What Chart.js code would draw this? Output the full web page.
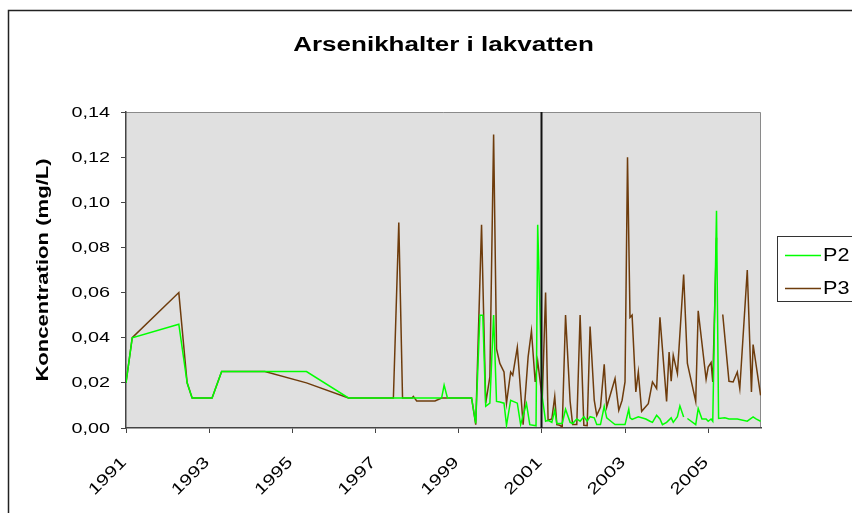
<!DOCTYPE html>
<html>
<head>
<meta charset="utf-8">
<script src="https://cdn.jsdelivr.net/npm/chart.js@4.4.1/dist/chart.umd.min.js"></script>
<style>
  html, body { margin: 0; padding: 0; background: #fff; }
  #wrap { width: 852px; height: 513px; position: relative; }
</style>
</head>
<body>
<div id="wrap"><canvas id="c" width="852" height="513"></canvas></div>
<script>
// Arsenic concentration in leachate, sampling points P2 and P3 (mg/L), dates as decimal years
const chartTitle = 'Arsenikhalter i lakvatten';
const yAxisTitle = 'Koncentration (mg/L)';
const seriesNames = ['P2', 'P3'];
const xTickYears = [1991, 1993, 1995, 1997, 1999, 2001, 2003, 2005];
const yTicks = [0, 0.02, 0.04, 0.06, 0.08, 0.10, 0.12, 0.14];
const markerYear = 2000.97;

const p2Dates = [
  1991.00, 1991.15, 1992.27, 1992.47, 1992.59, 1993.07, 1993.30, 1994.34, 1995.34, 1996.35,
  1998.59, 1998.65, 1998.73, 1999.31, 1999.41, 1999.51, 1999.58, 1999.65, 1999.75, 1999.84,
  1999.91, 1999.99, 2000.09, 2000.15, 2000.25, 2000.41, 2000.49, 2000.63, 2000.71, 2000.86,
  2000.90, 2001.01, 2001.09, 2001.15, 2001.24, 2001.31, 2001.36, 2001.49, 2001.57, 2001.68,
  2001.74, 2001.84, 2001.92, 2002.01, 2002.09, 2002.16, 2002.26, 2002.32, 2002.41, 2002.50,
  2002.56, 2002.66, 2002.76, 2003.00, 2003.09, 2003.12, 2003.17, 2003.32, 2003.50, 2003.60,
  2003.66, 2003.76, 2003.84, 2003.90, 2004.00, 2004.11, 2004.16, 2004.26, 2004.32, 2004.41,
  2004.45, 2004.50, 2004.70, 2004.76, 2004.85, 2004.95, 2005.00, 2005.07, 2005.11, 2005.20,
  2005.25, 2005.40, 2005.50, 2005.70, 2005.94, 2006.08, 2006.15, 2006.26
];
const p2Values = [
  0.020, 0.040, 0.046, 0.020, 0.0133, 0.0133, 0.025, 0.025, 0.025, 0.0133,
  0.0133, 0.019, 0.0133, 0.0133, 0.002, 0.050, 0.050, 0.0096, 0.011, 0.050,
  0.0118, 0.0115, 0.011, 0.0012, 0.0123, 0.011, 0.0015, 0.0108, 0.0015, 0.001,
  0.090, 0.0137, 0.003, 0.0034, 0.0025, 0.0078, 0.002, 0.002, 0.0083, 0.0025,
  0.002, 0.004, 0.003, 0.005, 0.003, 0.005, 0.0045, 0.0015, 0.0015, 0.0096,
  0.0045, 0.003, 0.0015, 0.0015, 0.0083, 0.0045, 0.0038, 0.005, 0.004, 0.003,
  0.0025, 0.0056, 0.004, 0.0015, 0.0025, 0.0045, 0.0025, 0.005, 0.0098, 0.0049,
  null, 0.0042, 0.0015, 0.0086, 0.004, 0.004, 0.003, 0.004, 0.003, 0.0962,
  0.0042, 0.0045, 0.004, 0.004, 0.003, 0.0049, 0.004, 0.003
];

const p3Dates = [
  1991.00, 1991.15, 1992.27, 1992.47, 1992.59, 1993.07, 1993.30, 1994.34, 1995.34, 1996.35,
  1997.43, 1997.56, 1997.65, 1997.88, 1997.91, 1997.99, 1998.43, 1998.59, 1999.31, 1999.41,
  1999.55, 1999.65, 1999.75, 1999.84, 1999.91, 1999.99, 2000.09, 2000.15, 2000.25, 2000.30,
  2000.41, 2000.55, 2000.67, 2000.75, 2000.84, 2000.90, 2001.01, 2001.09, 2001.15, 2001.24,
  2001.31, 2001.36, 2001.43, 2001.49, 2001.57, 2001.68, 2001.74, 2001.84, 2001.92, 2002.01,
  2002.09, 2002.16, 2002.26, 2002.32, 2002.41, 2002.50, 2002.56, 2002.76, 2002.85, 2002.93,
  2003.00, 2003.06, 2003.12, 2003.17, 2003.26, 2003.32, 2003.40, 2003.56, 2003.66, 2003.76,
  2003.84, 2004.00, 2004.06, 2004.11, 2004.16, 2004.26, 2004.41, 2004.50, 2004.70, 2004.76,
  2004.95, 2005.00, 2005.07, 2005.11, 2005.20, 2005.27, 2005.35, 2005.50, 2005.60, 2005.70,
  2005.76, 2005.94, 2006.04, 2006.08, 2006.26
];
const p3Values = [
  0.020, 0.040, 0.060, 0.020, 0.0133, 0.0133, 0.025, 0.025, 0.020, 0.0133,
  0.0133, 0.091, 0.0133, 0.0133, 0.014, 0.012, 0.012, 0.0133, 0.0133, 0.0015,
  0.090, 0.011, 0.0226, 0.130, 0.035, 0.0286, 0.0248, 0.011, 0.0248, 0.0234,
  0.0357, 0.0015, 0.0315, 0.043, 0.0204, 0.0296, 0.013, 0.060, 0.0034, 0.004,
  0.014, 0.0015, 0.0012, 0.0005, 0.050, 0.0118, 0.0015, 0.0015, 0.050, 0.0012,
  0.001, 0.045, 0.0123, 0.0056, 0.0093, 0.0282, 0.0093, 0.0219, 0.0078, 0.0123,
  0.0204, 0.120, 0.049, 0.050, 0.016, 0.0248, 0.0074, 0.0108, 0.0204, 0.0175,
  0.049, 0.0118, 0.0337, 0.0207, 0.0322, 0.0241, 0.068, 0.0286, 0.0118, 0.0519,
  0.0216, 0.027, 0.029, 0.0204, 0.0843, null, 0.0503, 0.0207, 0.0204, 0.0248,
  0.0175, 0.070, 0.016, 0.037, 0.0145
];

const seriesColors = ['#00ff00', '#6e3c0c'];
const FONT = "'Liberation Sans', Arial, sans-serif";
const WIDE = 1.3; // horizontal glyph stretch used for the chart text

function toPoints(dates, values) {
  return dates.map((d, i) => ({ x: d, y: values[i] }));
}

// draws text widened along its reading direction
function wideText(ctx, text, x, y, angle, align, font, kx) {
  ctx.save();
  ctx.translate(x, y);
  ctx.rotate(angle);
  ctx.scale(kx, 1);
  ctx.font = font;
  ctx.textAlign = align;
  ctx.textBaseline = 'middle';
  ctx.fillStyle = '#000';
  ctx.fillText(text, 0, 0);
  ctx.restore();
}

// Frame, plot background, marker line, labels, title and legend
const decorations = {
  id: 'decorations',
  beforeDraw(chart) {
    const { ctx, chartArea: a } = chart;
    ctx.save();
    ctx.fillStyle = '#ffffff';
    ctx.fillRect(0, 0, chart.width, chart.height);
    ctx.strokeStyle = '#222';
    ctx.lineWidth = 1.5;
    ctx.strokeRect(8.5, 10.5, 1200, 1200);
    ctx.fillStyle = '#e0e0e0';
    ctx.fillRect(a.left, a.top, a.right - a.left, a.bottom - a.top);
    ctx.strokeStyle = '#8a8a8a';
    ctx.lineWidth = 1;
    ctx.beginPath();
    ctx.moveTo(a.left, a.top + 0.5);
    ctx.lineTo(a.right - 0.5, a.top + 0.5);
    ctx.lineTo(a.right - 0.5, a.bottom);
    ctx.stroke();
    ctx.restore();
  },
  afterDatasetsDraw(chart) {
    const { ctx, chartArea: a, scales } = chart;
    const x = Math.round(scales.x.getPixelForValue(markerYear)) + 0.5;
    ctx.save();
    ctx.strokeStyle = '#111';
    ctx.lineWidth = 2;
    ctx.beginPath();
    ctx.moveTo(x, a.top);
    ctx.lineTo(x, a.bottom);
    ctx.stroke();
    ctx.restore();
  },
  afterDraw(chart) {
    const { ctx, chartArea: a, scales } = chart;
    const xs = scales.x, ys = scales.y;

    // axis tick labels from the scales' own ticks
    xs.ticks.forEach(t => {
      const px = xs.getPixelForValue(t.value);
      wideText(ctx, String(t.label), px - 2, a.bottom + 32, -Math.PI / 4, 'right', '16px ' + FONT, WIDE);
    });
    ys.ticks.forEach(t => {
      const py = ys.getPixelForValue(t.value);
      wideText(ctx, String(t.label), 110, py + 0.5, 0, 'right', '15px ' + FONT, 1.32);
    });

    // axis title and chart title
    wideText(ctx, yAxisTitle, 44, (a.top + a.bottom) / 2, -Math.PI / 2, 'center', 'bold 16px ' + FONT, 1.38);
    wideText(ctx, chartTitle, (a.left + a.right) / 2, 45, 0, 'center', 'bold 20px ' + FONT, WIDE);

    // legend
    ctx.save();
    ctx.strokeStyle = '#333';
    ctx.lineWidth = 1;
    ctx.strokeRect(777.5, 236.5, 120, 65);
    chart.data.datasets.forEach((ds, i) => {
      const y = 255 + i * 33;
      ctx.strokeStyle = ds.borderColor;
      ctx.lineWidth = 1.3;
      ctx.beginPath();
      ctx.moveTo(785, y + 0.5);
      ctx.lineTo(821, y + 0.5);
      ctx.stroke();
      wideText(ctx, ds.label, 823, y + 1, 0, 'left', '18px ' + FONT, 1.2);
    });
    ctx.restore();
  }
};

new Chart(document.getElementById('c'), {
  type: 'line',
  data: {
    datasets: [
      { label: seriesNames[0], data: toPoints(p2Dates, p2Values), borderColor: seriesColors[0] },
      { label: seriesNames[1], data: toPoints(p3Dates, p3Values), borderColor: seriesColors[1] }
    ]
  },
  options: {
    responsive: false,
    animation: false,
    spanGaps: false,
    layout: { padding: { top: 112, right: 91, bottom: 0, left: 0 } },
    elements: {
      line: { borderWidth: 1.5, tension: 0, fill: false },
      point: { radius: 0, hoverRadius: 0 }
    },
    plugins: {
      legend: { display: false },
      title: { display: false },
      tooltip: { enabled: false }
    },
    scales: {
      x: {
        type: 'linear',
        min: 1991,
        max: 2006.27,
        afterFit(scale) { scale.height = 85; },
        afterBuildTicks(scale) { scale.ticks = xTickYears.map(v => ({ value: v })); },
        grid: { drawOnChartArea: false, drawTicks: true, tickLength: 5, color: '#444', lineWidth: 1 },
        border: { display: true, color: '#444', width: 1.5 },
        ticks: { display: false, autoSkip: false, callback: v => String(v) }
      },
      y: {
        min: 0,
        max: 0.14,
        afterFit(scale) { scale.width = 126; },
        afterBuildTicks(scale) { scale.ticks = yTicks.map(v => ({ value: v })); },
        grid: { drawOnChartArea: false, drawTicks: true, tickLength: 5, color: '#444', lineWidth: 1 },
        border: { display: true, color: '#444', width: 1.5 },
        ticks: { display: false, callback: v => v.toFixed(2).replace('.', ',') }
      }
    }
  },
  plugins: [decorations]
});
</script>
</body>
</html>
